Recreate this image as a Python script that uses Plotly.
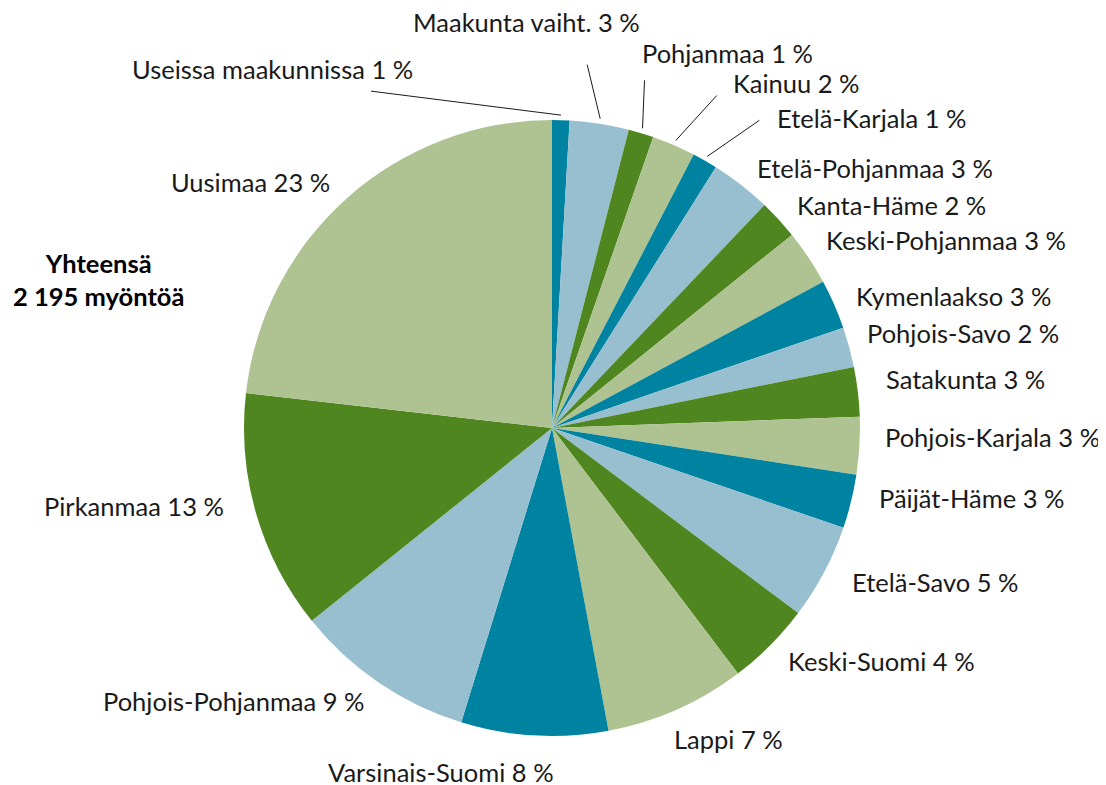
import math
import plotly.graph_objects as go

# ---- data ----
regions = [
    "Useissa maakunnissa", "Maakunta vaiht.", "Pohjanmaa", "Kainuu", "Etelä-Karjala",
    "Etelä-Pohjanmaa", "Kanta-Häme", "Keski-Pohjanmaa", "Kymenlaakso", "Pohjois-Savo",
    "Satakunta", "Pohjois-Karjala", "Päijät-Häme", "Etelä-Savo", "Keski-Suomi",
    "Lappi", "Varsinais-Suomi", "Pohjois-Pohjanmaa", "Pirkanmaa", "Uusimaa",
]
grants = [20, 68, 29, 50, 29, 70, 46, 64, 57, 46, 57, 66, 62, 110, 97, 162, 169, 208, 276, 509]
total_title = "Yhteensä"
total_label = "2 195 myöntöä"

palette = ["#0083a0", "#97bfcf", "#50861f", "#afc392"]
colors = [palette[i % 4] for i in range(len(regions))]

# ---- layout geometry (pixels, in page coordinates) ----
W, H = 1106, 785
OFF = 8  # page body margin
ML, MR, MT, MB = 236, 254, 112, 57
CX = ML + (W - ML - MR) / 2 + OFF
CY = MT + (H - MT - MB) / 2 + OFF
R = (W - ML - MR) / 2
FONT = "Lato"
FS = 25.5
TXT = "#1a1a1a"

def px2paper(px, py):
    px -= OFF
    py -= OFF
    return (px - ML) / (W - ML - MR), (H - MB - py) / (H - MT - MB)

def edge(angle_deg, r):
    a = math.radians(angle_deg)
    return CX + r * math.sin(a), CY - r * math.cos(a)

total = sum(grants)
pct = [round(v / total * 100) for v in grants]
mid = []
acc = 0
for v in grants:
    mid.append((acc + v / 2) / total * 360)
    acc += v

# leader-line labels: (line end dx, dy, text dx, dy, xanchor) relative to slice tip
leaders = {
    "Useissa maakunnissa": (-190, -24, -146, -46, "right"),
    "Maakunta vaiht.": (-13, -54, -74, -97, "center"),
    "Pohjanmaa": (2, -48, -3, -75, "left"),
    "Kainuu": (41, -45, 55, -58, "left"),
    "Etelä-Karjala": (52, -36, 68, -38, "left"),
}
# small nudges for outside labels (pixels)
nudges = {
    "Lappi": (-14, 9), "Varsinais-Suomi": (-92, 15), "Pirkanmaa": (-9, -14),
    "Satakunta": (4, -10), "Pohjois-Karjala": (2, -10), "Päijät-Häme": (5, -9),
    "Pohjois-Savo": (-5, -8), "Keski-Pohjanmaa": (-3, -5), "Etelä-Savo": (6, -1),
}

fig = go.Figure(go.Pie(
    labels=regions, values=grants, sort=False, direction="clockwise", rotation=0,
    marker=dict(colors=colors, line=dict(width=0)), textinfo="none",
    hoverinfo="label+value+percent", showlegend=False,
    domain=dict(x=[0, 1], y=[0, 1]),
))

annotations = []
shapes = []
for name, p, a in zip(regions, pct, mid):
    text = f"{name} {p} %"
    if name in leaders:
        ldx, ldy, tdx, tdy, xa = leaders[name]
        tx, ty = edge(a, R + 5)
        x0, y0 = px2paper(tx, ty)
        x1, y1 = px2paper(tx + ldx, ty + ldy)
        shapes.append(dict(type="line", xref="paper", yref="paper", x0=x0, y0=y0, x1=x1, y1=y1,
                           line=dict(color="#1a1a1a", width=1)))
        ax_, ay_ = px2paper(tx + tdx, ty + tdy)
        annotations.append(dict(text=text, x=ax_, y=ay_, xref="paper", yref="paper",
                                xanchor=xa, yanchor="middle", showarrow=False,
                                font=dict(family=FONT, size=FS, color=TXT)))
    else:
        px, py = edge(a, R + 22)
        s = math.sin(math.radians(a))
        xa = "left" if s > 0.25 else ("right" if s < -0.25 else "center")
        dx, dy = nudges.get(name, (0, 0))
        x_, y_ = px2paper(px + dx, py + dy)
        annotations.append(dict(text=text, x=x_, y=y_, xref="paper", yref="paper",
                                xanchor=xa, yanchor="middle", showarrow=False,
                                font=dict(family=FONT, size=FS, color=TXT)))

tx_, ty_ = px2paper(98, 279)
annotations.append(dict(text=f"<b>{total_title}<br>{total_label}</b>", x=tx_, y=ty_,
                        xref="paper", yref="paper", xanchor="center", yanchor="middle",
                        showarrow=False, align="center",
                        font=dict(family=FONT, size=FS, color="#000000")))

fig.update_layout(
    width=W, height=H, margin=dict(l=ML, r=MR, t=MT, b=MB),
    paper_bgcolor="white", plot_bgcolor="white",
    annotations=annotations, shapes=shapes,
)
fig.write_html("out.html")
